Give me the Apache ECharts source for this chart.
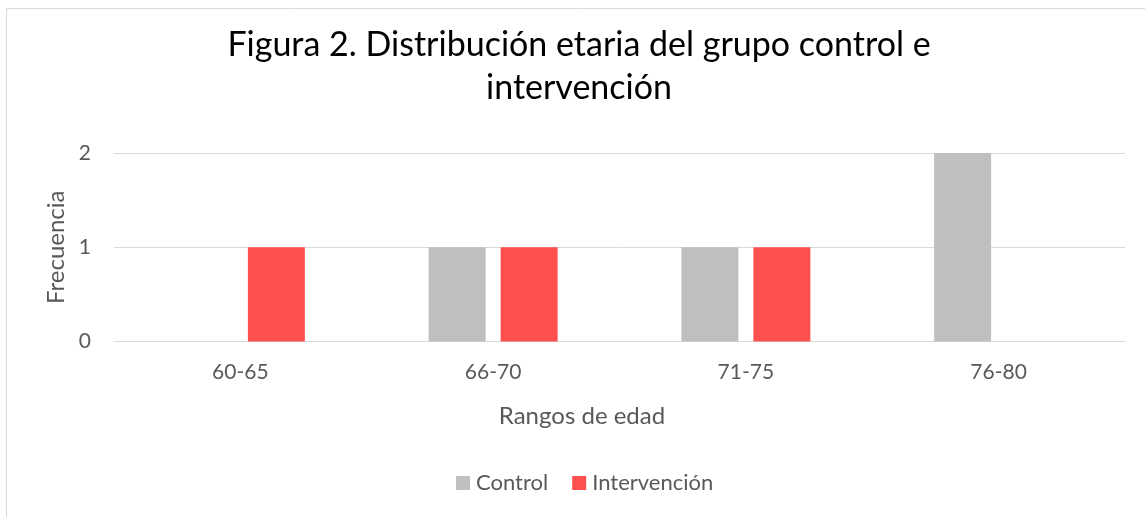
<!DOCTYPE html>
<html>
<head>
<meta charset="utf-8">
<script src="https://cdn.jsdelivr.net/npm/echarts@6/dist/echarts.min.js"></script>
<style>
html,body{margin:0;padding:0;background:#fff;}
#chart{width:1145px;height:517px;}
</style>
</head>
<body>
<div id="chart"></div>
<script>
const categories = ['60-65', '66-70', '71-75', '76-80'];
const controlValues = [0, 1, 1, 2];
const intervencionValues = [1, 1, 1, 0];
const yTicks = [0, 1, 2];

const chart = echarts.init(document.getElementById('chart'));
const font = 'Lato, "Open Sans", sans-serif';
chart.setOption({
  animation: false,
  backgroundColor: '#fff',
  graphic: [{
    type: 'rect',
    shape: {x: 6.5, y: 8.5, width: 1200, height: 600},
    style: {fill: 'none', stroke: '#d9d9d9', lineWidth: 1},
    silent: true
  }],
  title: {
    text: 'Figura 2. Distribución etaria del grupo control e\nintervención',
    left: 574,
    top: 19,
    textAlign: 'center',
    textStyle: {fontFamily: font, fontSize: 34, fontWeight: 'normal', color: '#000', lineHeight: 43}
  },
  legend: {
    data: ['Control', 'Intervención'],
    left: 456,
    top: 472,
    padding: 0,
    itemWidth: 14,
    itemHeight: 14,
    itemGap: 24,
    icon: 'rect',
    textStyle: {fontFamily: font, fontSize: 22, color: '#595959', padding: [0,0,0,1]}
  },
  grid: {left: 114, right: 20, top: 153, bottom: 175.5, containLabel: false},
  xAxis: {
    type: 'category',
    data: categories,
    name: 'Rangos de edad',
    nameLocation: 'middle',
    nameGap: 63,
    nameTextStyle: {fontFamily: font, fontSize: 24, color: '#595959', padding: [0, 75, 0, 0]},
    axisLine: {lineStyle: {color: '#d9d9d9', width: 1}},
    axisTick: {show: false},
    axisLabel: {fontFamily: font, fontSize: 21, color: '#595959', margin: 20}
  },
  yAxis: {
    type: 'value',
    min: 0,
    max: 2,
    interval: 1,
    name: 'Frecuencia',
    nameLocation: 'middle',
    nameGap: 45,
    nameTextStyle: {fontFamily: font, fontSize: 24, color: '#595959'},
    axisLine: {show: false},
    axisTick: {show: false},
    axisLabel: {
      fontFamily: font, fontSize: 21, color: '#595959', margin: 23,
      formatter: function (v) { return yTicks.indexOf(v) >= 0 ? String(v) : ''; }
    },
    splitLine: {lineStyle: {color: '#d9d9d9', width: 1}}
  },
  series: [
    {name: 'Control', type: 'bar', data: controlValues, barWidth: 57, barGap: '26.3%', itemStyle: {color: '#bfbfbf'}},
    {name: 'Intervención', type: 'bar', data: intervencionValues, barWidth: 57, barGap: '26.3%', itemStyle: {color: '#ff5050'}}
  ]
});
</script>
</body>
</html>
